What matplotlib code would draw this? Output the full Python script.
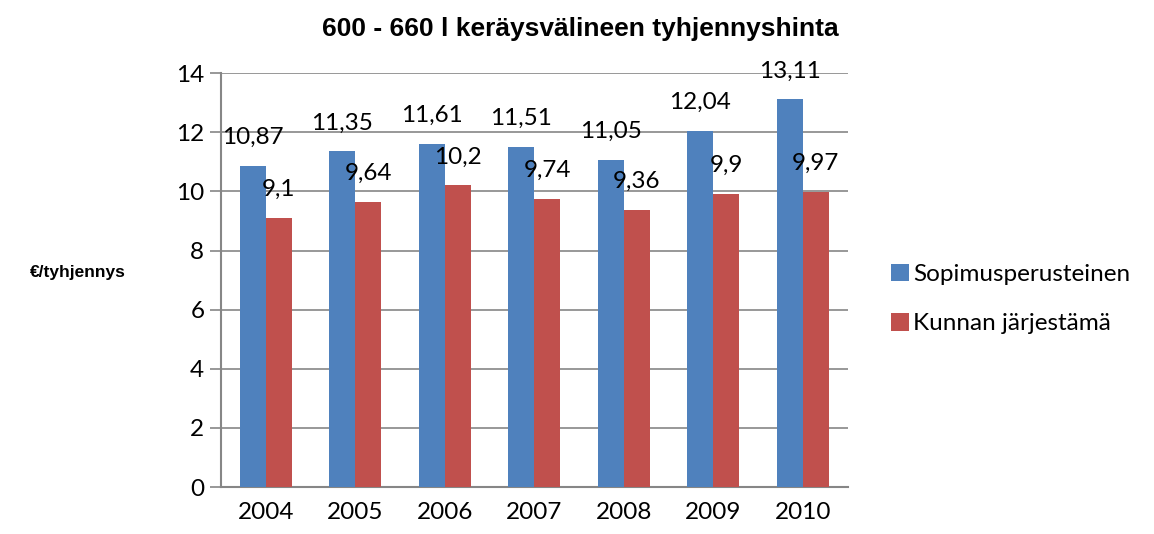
import matplotlib
matplotlib.use('Agg')
import matplotlib.pyplot as plt
import numpy as np

# data
years = ['2004', '2005', '2006', '2007', '2008', '2009', '2010']
sopimus = [10.87, 11.35, 11.61, 11.51, 11.05, 12.04, 13.11]
kunnan = [9.1, 9.64, 10.2, 9.74, 9.36, 9.9, 9.97]
series_names = ['Sopimusperusteinen', 'Kunnan järjestämä']

plt.rcParams['font.family'] = ['Lato', 'DejaVu Sans']

blue = '#4F81BD'
red = '#C0504D'
grey = '#868686'

fig = plt.figure(figsize=(11.54, 5.34), dpi=100, facecolor='white')
ax = fig.add_axes([0.1915, 0.088, 0.543, 0.775])

x = np.arange(len(years))
w = 0.29
b1 = ax.bar(x - w / 2, sopimus, w, color=blue, label=series_names[0], zorder=3)
b2 = ax.bar(x + w / 2, kunnan, w, color=red, label=series_names[1], zorder=3)

def fmt(v):
    return ('%g' % v).replace('.', ',')

for bars, vals in ((b1, sopimus), (b2, kunnan)):
    for rect, v in zip(bars, vals):
        ax.annotate(fmt(v), (rect.get_x() + rect.get_width() / 2, v),
                    xytext=(0, 13), textcoords='offset points',
                    ha='center', va='bottom', fontsize=17.5, zorder=5)

ax.set_xlim(-0.5, len(years) - 0.5)
ax.set_ylim(0, 14)
ax.set_yticks(np.arange(0, 15, 2))
ax.set_xticks(x)
ax.set_xticklabels(years)
ax.yaxis.grid(True, color=grey, linewidth=1.2, zorder=0)
ax.set_axisbelow(True)
for s in ('top', 'right'):
    ax.spines[s].set_visible(False)
ax.spines['left'].set_color(grey)
ax.spines['bottom'].set_color(grey)
ax.spines['left'].set_linewidth(1.5)
ax.spines['bottom'].set_linewidth(1.5)
ax.tick_params(axis='y', length=8, color=grey, width=1.2, labelsize=17.5, pad=4)
ax.tick_params(axis='x', length=0, labelsize=17.5, pad=11)

fig.text(0.503, 0.945, '600 - 660 l keräysvälineen tyhjennyshinta',
         ha='center', va='center', fontsize=19, fontweight='bold',
         family=['Liberation Sans', 'DejaVu Sans'])
fig.text(0.026, 0.49, '€/tyhjennys', ha='left', va='center', fontsize=12.5,
         fontweight='bold', family=['Liberation Sans', 'DejaVu Sans'])

fig.legend(handles=[b1, b2], labels=series_names, loc='center left',
           bbox_to_anchor=(0.772, 0.44), frameon=False, fontsize=17.5,
           borderpad=0, borderaxespad=0,
           handlelength=0.75, handleheight=0.75, handletextpad=0.15,
           labelspacing=1.15)

plt.savefig('out.png', dpi=100, facecolor='white')
